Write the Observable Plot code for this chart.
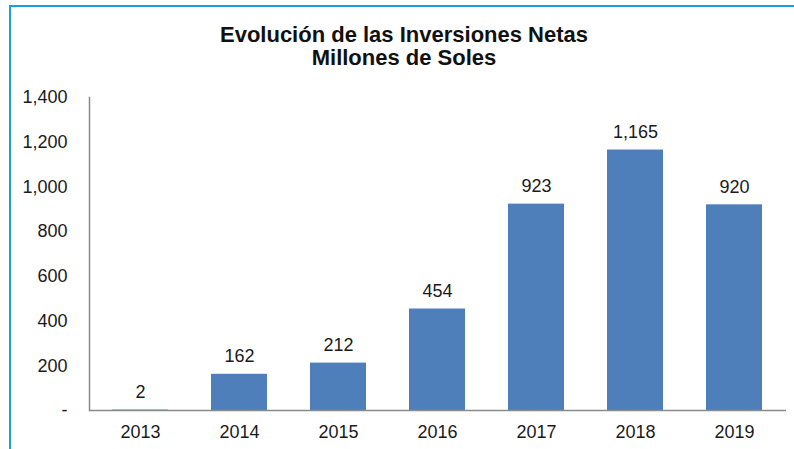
<!DOCTYPE html>
<html>
<head>
<meta charset="utf-8">
<script src="https://cdn.jsdelivr.net/npm/d3@7"></script>
<script src="https://cdn.jsdelivr.net/npm/@observablehq/plot@0.6"></script>
<style>
  body { margin: 0; background: #fff; font-family: "Liberation Sans", Arial, sans-serif; }
  #wrap { position: relative; width: 794px; height: 449px; overflow: hidden; background: #fff; }
  #border { position: absolute; left: 9px; top: 5px; right: -10px; bottom: -10px; border-left: 2px solid #1f9be0; border-top: 2px solid #1f9be0; }
  #title { position: absolute; left: 14px; right: 0; top: 23px; text-align: center; font-weight: bold; font-size: 22px; line-height: 23px; color: #111; }
  #chart { position: absolute; left: 0; top: 0; }
</style>
</head>
<body>
<div id="wrap">
  <div id="border"></div>
  <div id="title">Evolución de las Inversiones Netas<br>Millones de Soles</div>
  <div id="chart"></div>
</div>
<script>
const years = ["2013", "2014", "2015", "2016", "2017", "2018", "2019"];
const values = [2, 162, 212, 454, 923, 1165, 920];
const yTicks = [0, 200, 400, 600, 800, 1000, 1200, 1400];

const data = years.map((y, i) => ({year: y, value: values[i]}));
const fmt = d3.format(",");

const plot = Plot.plot({
  width: 794,
  height: 449,
  marginTop: 97,
  marginBottom: 39,
  marginLeft: 89,
  marginRight: 8,
  style: {fontFamily: "'Liberation Sans', Arial, sans-serif", fontSize: "18px", color: "#1a1a1a", background: "transparent"},
  x: {domain: years, paddingInner: 0.43, paddingOuter: 0.215, label: null},
  y: {domain: [0, 1400], label: null},
  marks: [
    Plot.barY(data, {x: "year", y: "value", fill: "#4f7fba"}),
    Plot.axisY({ticks: yTicks, tickSize: 0, tickPadding: 22, tickFormat: d => d === 0 ? "-" : fmt(d), fontSize: 18, label: null}),
    Plot.axisX({tickSize: 0, tickPadding: 15, fontSize: 18, label: null}),
    Plot.frame({anchor: "left", stroke: "#8a8a8a", strokeWidth: 1.5}),
    Plot.ruleY([0], {stroke: "#8a8a8a", strokeWidth: 1.5}),
    Plot.text(data, {x: "year", y: "value", text: d => fmt(d.value), dy: -18, fontSize: 18, fill: "#1a1a1a"})
  ]
});
document.getElementById("chart").appendChild(plot);
</script>
</body>
</html>
